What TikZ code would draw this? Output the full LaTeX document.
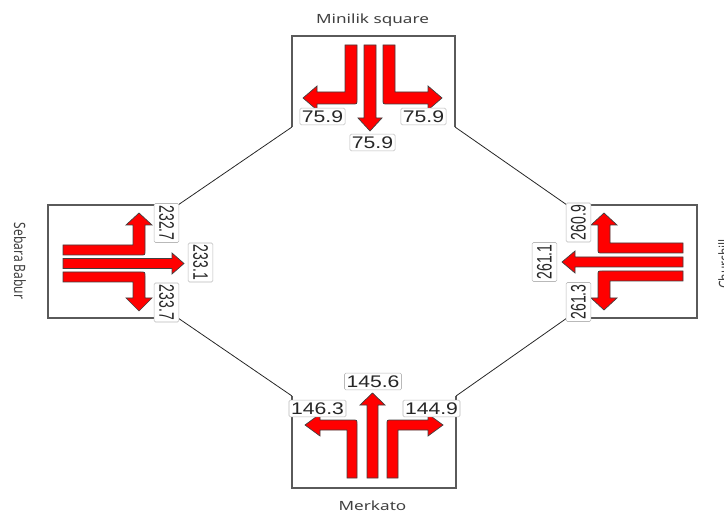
\documentclass[tikz,border=0pt]{standalone}
\usepackage{fontspec}
\usepackage{graphicx}
\newfontfamily\labfont{Liberation Sans}
\newfontfamily\titlefont{Noto Sans}
\definecolor{boxgray}{HTML}{5A5A5A}
\definecolor{titlegray}{HTML}{404040}
\newcommand\hlab[1]{\scalebox{1.26}[1]{\labfont\fontsize{16.8}{18}\selectfont #1}}
\newcommand\lrot[1]{\scalebox{1.5}[1]{\rotatebox{-90}{\labfont\fontsize{14}{16}\selectfont #1}}}
\newcommand\rrot[1]{\scalebox{1.5}[1]{\rotatebox{90}{\labfont\fontsize{14}{16}\selectfont #1}}}
\newcommand\ttl[1]{\scalebox{1.35}[1]{\titlefont\fontsize{12.7}{14}\selectfont #1}}
\tikzset{
  frame/.style={draw=boxgray, line width=1.1pt},
  link/.style={draw=black!85, line width=0.8pt},
  arr/.style={fill=red, draw=black!75, line width=0.7pt, line join=miter},
  lab/.style={draw=gray!55, fill=white, rounded corners=1.5pt, line width=0.6pt, text=black!85, inner sep=0pt},
  hlabel/.style={lab, inner xsep=2pt, inner ysep=2.5pt},
  vlabel/.style={lab, inner xsep=5pt, inner ysep=2pt},
  title/.style={text=titlegray, inner sep=0pt}
}
\begin{document}
\begin{tikzpicture}[x=1pt,y=-1pt]
\useasboundingbox (0,0) rectangle (724,516);
% corners
\coordinate (tbl) at (292,127); \coordinate (ttl) at (292,36);
\coordinate (ttr) at (455,36);  \coordinate (tbr) at (455,127);
\coordinate (ltr) at (178,205); \coordinate (ltl) at (48,205);
\coordinate (lbl) at (48,318);  \coordinate (lbr) at (178,318);
\coordinate (rtl) at (567,205); \coordinate (rtr) at (697,205);
\coordinate (rbr) at (697,318); \coordinate (rbl) at (567,318);
\coordinate (btl) at (292,396); \coordinate (bbl) at (292,488);
\coordinate (bbr) at (456,488); \coordinate (btr) at (456,396);
% boxes (open on inner side)
\draw[frame] (tbl) -- (ttl) -- (ttr) -- (tbr);
\draw[frame] (ltr) -- (ltl) -- (lbl) -- (lbr);
\draw[frame] (rtl) -- (rtr) -- (rbr) -- (rbl);
\draw[frame] (btl) -- (bbl) -- (bbr) -- (btr);
% links
\draw[link] (tbl) -- (ltr);
\draw[link] (tbr) -- (rtl);
\draw[link] (lbr) -- (btl);
\draw[link] (rbl) -- (btr);
% top arrows
\filldraw[arr] (345,45) -- (357,45) -- (357,100) .. controls (357,104) .. (353,104) -- (317,104) -- (317,110) -- (303,98) -- (317,86) -- (317,92) -- (345,92) -- cycle;
\filldraw[arr] (364,45) -- (376,45) -- (376,118) -- (382,118) -- (370,131) -- (358,118) -- (364,118) -- cycle;
\filldraw[arr] (395,45) -- (383,45) -- (383,100) .. controls (383,104) .. (387,104) -- (428,104) -- (428,110) -- (442,98) -- (428,86) -- (428,92) -- (395,92) -- cycle;
% left arrows
\filldraw[arr] (63,245) -- (133,245) -- (133,225) -- (126,225) -- (139,213) -- (152,225) -- (145,225) -- (145,251) .. controls (145,255) .. (141,255) -- (63,255) -- cycle;
\filldraw[arr] (63,258.5) -- (172,258.5) -- (172,253) -- (184,263.5) -- (172,274) -- (172,268.5) -- (63,268.5) -- cycle;
\filldraw[arr] (63,272) -- (141,272) .. controls (145,272) .. (145,276) -- (145,298) -- (152,298) -- (139,311) -- (126,298) -- (133,298) -- (133,282) -- (63,282) -- cycle;
% right arrows
\filldraw[arr] (683,243) -- (610,243) -- (610,225) -- (617,225) -- (604,213) -- (591,225) -- (598,225) -- (598,249) .. controls (598,253) .. (602,253) -- (683,253) -- cycle;
\filldraw[arr] (683,257) -- (575,257) -- (575,251) -- (562,262) -- (575,273) -- (575,267) -- (683,267) -- cycle;
\filldraw[arr] (683,271) -- (602,271) .. controls (598,271) .. (598,275) -- (598,298) -- (591,298) -- (604,310) -- (617,298) -- (610,298) -- (610,281) -- (683,281) -- cycle;
% bottom arrows
\filldraw[arr] (347,478) -- (347,430) -- (320,430) -- (320,436) -- (305,425) -- (320,414) -- (320,420) -- (353,420) .. controls (357,420) .. (357,424) -- (357,478) -- cycle;
\filldraw[arr] (367,478) -- (367,405) -- (360,405) -- (372.5,393) -- (385,405) -- (378,405) -- (378,478) -- cycle;
\filldraw[arr] (398,478) -- (398,430) -- (428,430) -- (428,436) -- (443,425) -- (428,414) -- (428,420) -- (391,420) .. controls (387,420) .. (387,424) -- (387,478) -- cycle;
% labels
\node[hlabel] (t1) at (322.5,116.5) {\hlab{75.9}};
\node[hlabel] (t2) at (423.5,116.5) {\hlab{75.9}};
\node[hlabel] (t3) at (372.5,142.5) {\hlab{75.9}};
\node[vlabel] (l1) at (166.5,223) {\lrot{232.7}};
\node[vlabel] (l2) at (200.5,262.5) {\lrot{233.1}};
\node[vlabel] (l3) at (166.5,302.5) {\lrot{233.7}};
\node[vlabel] (r1) at (578.5,222.5) {\rrot{260.9}};
\node[vlabel] (r2) at (544.5,262) {\rrot{261.1}};
\node[vlabel] (r3) at (578.5,302) {\rrot{261.3}};
\node[hlabel] (b1) at (317.5,408.5) {\hlab{146.3}};
\node[hlabel] (b2) at (373,381.5) {\hlab{145.6}};
\node[hlabel] (b3) at (431.5,408.5) {\hlab{144.9}};
% titles
\node[title, anchor=base] (nt) at (372.5,24) {\ttl{Minilik square}};
\node[title, anchor=base] (nb) at (372.5,510) {\ttl{Merkato}};
\node[title] (nl) at (20,261) {\scalebox{1.3}[1]{\rotatebox{-90}{\titlefont\fontsize{12}{14}\selectfont Sebara Babur}}};
\node[title, anchor=west] (nr) at (718,264) {\scalebox{1.3}[1]{\rotatebox{90}{\titlefont\fontsize{12}{14}\selectfont Churchill}}};
\end{tikzpicture}
\end{document}
